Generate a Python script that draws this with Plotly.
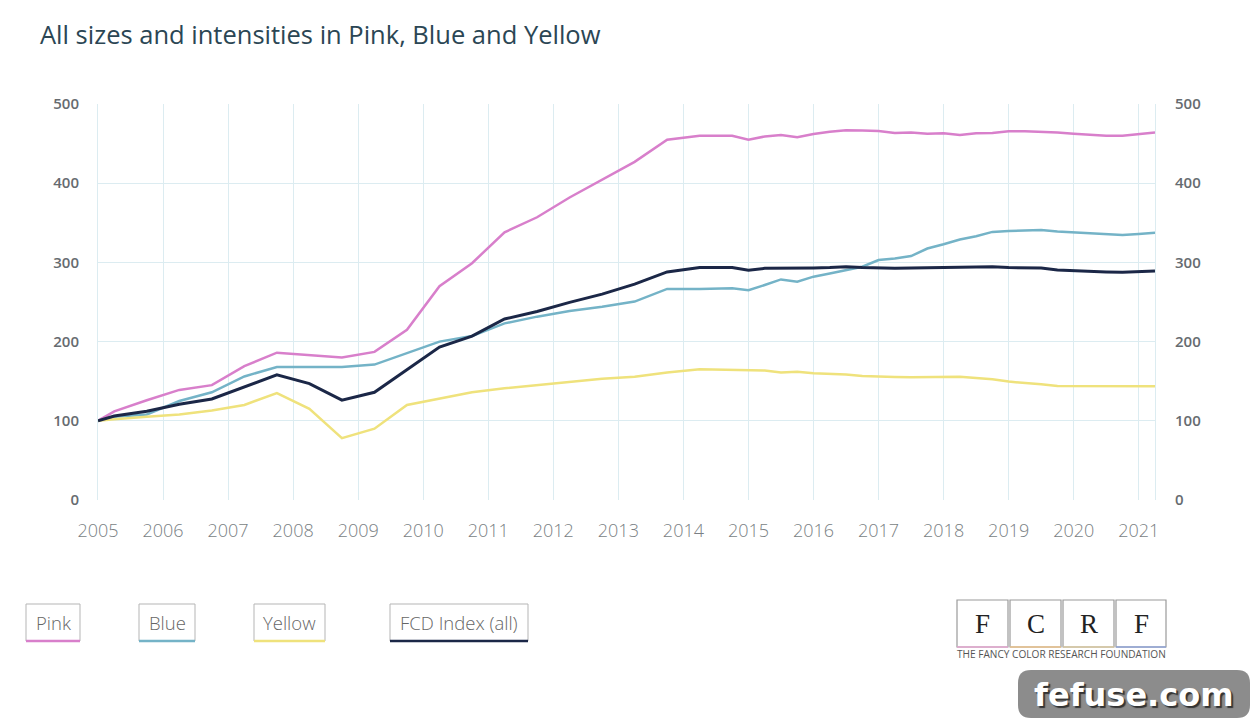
import plotly.graph_objects as go

# ---------------- data ----------------
dates = [2005.0, 2005.25, 2005.75, 2006.25, 2006.75, 2007.25, 2007.75, 2008.25, 2008.75,
         2009.25, 2009.75, 2010.25, 2010.75, 2011.25, 2011.75, 2012.25, 2012.75, 2013.25,
         2013.75, 2014.25, 2014.75, 2015.0, 2015.25, 2015.5, 2015.75, 2016.0, 2016.25,
         2016.5, 2016.75, 2017.0, 2017.25, 2017.5, 2017.75, 2018.0, 2018.25, 2018.5,
         2018.75, 2019.0, 2019.25, 2019.5, 2019.75, 2020.0, 2020.25, 2020.5, 2020.75,
         2021.0, 2021.25]

pink = [100, 112, 126, 139, 145, 169, 186, 183, 180, 187, 215, 270, 299, 338, 357, 382,
        404, 427, 455, 460, 460, 455, 459, 461, 458, 462, 465, 467, 466.5, 466, 463.5,
        464, 462.5, 463, 461, 463, 463.5, 465.5, 465.5, 465, 464, 462.5, 461.5, 460, 460,
        462, 464]

blue = [100, 105, 108, 125, 136, 156, 168, 168, 168, 171, 186, 200, 207, 223, 231.5,
        238.5, 244, 250.5, 266.5, 266.5, 267.5, 265, 271.5, 278.5, 275.5, 282, 286, 290,
        294.5, 303, 305, 308, 317.5, 323, 329, 333, 338.5, 339.5, 340.5, 341, 339, 338,
        337, 336, 334.5, 336, 337.5]

yellow = [100, 102, 105, 108, 113, 120, 135, 115, 78, 90, 120, 128, 136, 141, 145, 149,
          153, 155.5, 161, 165, 164.5, 163.5, 163.5, 161, 162, 160, 159, 158.5, 156.5,
          155.5, 155.3, 155, 155, 155, 155.5, 154, 152.5, 149.5, 148, 146, 144, 144, 144,
          143.8, 143.6, 143.6, 143.6]

fcd_index = [100, 106, 112, 121, 127.5, 143, 158, 147, 126, 136, 164, 193, 207, 228.5,
             238, 249.5, 260, 272.5, 288, 293.5, 293.5, 290, 292.5, 292.5, 292.3, 293,
             293.5, 294.5, 293.5, 293, 292.5, 293, 293.3, 293.5, 294, 294.5, 294.5, 293.5,
             293.3, 293, 290.5, 289.5, 288.5, 288, 287.5, 288.5, 289]

series_names = ["Pink", "Blue", "Yellow", "FCD Index (all)"]
series_values = [pink, blue, yellow, fcd_index]
x_ticks = list(range(2005, 2022))
y_ticks = [0, 100, 200, 300, 400, 500]

title_text = "All sizes and intensities in Pink, Blue and Yellow"
logo_letters = ["F", "C", "R", "F"]
logo_caption = "THE FANCY COLOR RESEARCH FOUNDATION"
watermark = "fefuse.com"

# ---------------- styling ----------------
colors = ["#d87fcb", "#74b3c7", "#efe27c", "#1b2747"]
widths = [2.5, 2.5, 2.5, 3]
grid_color = "#dcecf1"

W, H = 1253, 722
L, R, T, B = 98, 1155, 104, 500


def px(x):
    return (x - L) / (R - L)


def py(y):
    return (B - y) / (B - T)


fig = go.Figure()
for name, vals, c, w in zip(series_names, series_values, colors, widths):
    fig.add_trace(go.Scatter(x=dates, y=vals, mode="lines", name=name,
                             line=dict(color=c, width=w), showlegend=False))
# invisible companion on the right axis so it is drawn
fig.add_trace(go.Scatter(x=dates, y=fcd_index, yaxis="y2", mode="lines",
                         line=dict(color="rgba(0,0,0,0)", width=0),
                         showlegend=False, hoverinfo="skip"))

shapes = []
annotations = []

# legend boxes
legend_boxes = [(26, 80), (139, 195), (254, 325), (390, 528)]
for (x0, x1), name, c in zip(legend_boxes, series_names, colors):
    shapes.append(dict(type="rect", xref="paper", yref="paper",
                       x0=px(x0), x1=px(x1), y0=py(641), y1=py(604),
                       line=dict(color="#b5b5b5", width=1), fillcolor="white"))
    shapes.append(dict(type="line", xref="paper", yref="paper",
                       x0=px(x0), x1=px(x1), y0=py(641), y1=py(641),
                       line=dict(color=c, width=2.5)))
    annotations.append(dict(text=name, xref="paper", yref="paper",
                            x=px((x0 + x1) / 2), y=py(622), showarrow=False,
                            xanchor="center", yanchor="middle",
                            font=dict(family="Open Sans", size=18.5, color="#666666",
                                      weight=300)))

# logo
logo_boxes = [(957, 1008), (1010, 1061), (1063, 1114), (1116, 1166)]
logo_under = ["#e3a6cf", "#e9c08a", "#d9c9a0", "#8fa3d6"]
for (x0, x1), letter, uc in zip(logo_boxes, logo_letters, logo_under):
    shapes.append(dict(type="rect", xref="paper", yref="paper",
                       x0=px(x0), x1=px(x1), y0=py(647), y1=py(600),
                       line=dict(color="#9a9a9a", width=1.2), fillcolor="white"))
    shapes.append(dict(type="line", xref="paper", yref="paper",
                       x0=px(x0), x1=px(x1), y0=py(647), y1=py(647),
                       line=dict(color=uc, width=1.5)))
    annotations.append(dict(text=letter, xref="paper", yref="paper",
                            x=px((x0 + x1) / 2), y=py(624), showarrow=False,
                            xanchor="center", yanchor="middle",
                            font=dict(family="Liberation Serif", size=27, color="#222222")))
annotations.append(dict(text=logo_caption, xref="paper", yref="paper",
                        x=px(1061.5), y=py(654), showarrow=False,
                        xanchor="center", yanchor="middle",
                        font=dict(family="Open Sans", size=10.1, color="#555555")))

# watermark rounded box
wx0, wx1, wy0, wy1, rr = 1018, 1250, 670, 718, 13


def P(x, y):
    return f"{px(x):.5f},{py(y):.5f}"


path = (f"M {P(wx0 + rr, wy0)} L {P(wx1 - rr, wy0)} Q {P(wx1, wy0)} {P(wx1, wy0 + rr)} "
        f"L {P(wx1, wy1 - rr)} Q {P(wx1, wy1)} {P(wx1 - rr, wy1)} "
        f"L {P(wx0 + rr, wy1)} Q {P(wx0, wy1)} {P(wx0, wy1 - rr)} "
        f"L {P(wx0, wy0 + rr)} Q {P(wx0, wy0)} {P(wx0 + rr, wy0)} Z")
shapes.append(dict(type="path", xref="paper", yref="paper", path=path,
                   fillcolor="#8c8c8c", line=dict(width=0)))
annotations.append(dict(text=watermark, xref="paper", yref="paper",
                        x=px(1134), y=py(695), showarrow=False,
                        xanchor="center", yanchor="middle",
                        font=dict(family="DejaVu Sans", size=32, color="white", weight="bold",
                                  shadow="2px 2px 1px #333333")))

fig.update_layout(
    width=W, height=H,
    margin=dict(l=L, r=W - R, t=T, b=H - B, autoexpand=False),
    paper_bgcolor="white", plot_bgcolor="white",
    title=dict(text=title_text, x=40 / W, xref="container", xanchor="left",
               y=1 - 35 / H, yref="container", yanchor="middle",
               font=dict(family="Open Sans", size=25.5, color="#2b4654")),
    xaxis=dict(range=[2005, 2021.25], tickmode="array", tickvals=x_ticks,
               ticktext=[str(v) for v in x_ticks], showgrid=True, gridcolor=grid_color,
               gridwidth=1, zeroline=False, showline=False, ticks="",
               ticklabelstandoff=18,
               tickfont=dict(family="Open Sans", size=18, color="#7a7f84", weight=300)),
    yaxis=dict(range=[0, 500], tickmode="array", tickvals=y_ticks, showgrid=True,
               gridcolor=grid_color, gridwidth=1, zeroline=False, showline=True,
               linecolor=grid_color, linewidth=1, ticks="", ticklabelstandoff=15,
               tickfont=dict(family="Open Sans", size=15, color="#666b70", weight=600)),
    yaxis2=dict(range=[0, 500], tickmode="array", tickvals=y_ticks, overlaying="y",
                side="right", showgrid=False, zeroline=False, showline=True,
                linecolor=grid_color, linewidth=1, ticks="", ticklabelstandoff=16,
                tickfont=dict(family="Open Sans", size=15, color="#666b70", weight=600)),
    shapes=shapes,
    annotations=annotations,
    hovermode=False,
)

fig.write_html("out.html", config={"displayModeBar": False},
               post_script="document.body.style.margin='0';document.body.style.overflow='hidden';")
